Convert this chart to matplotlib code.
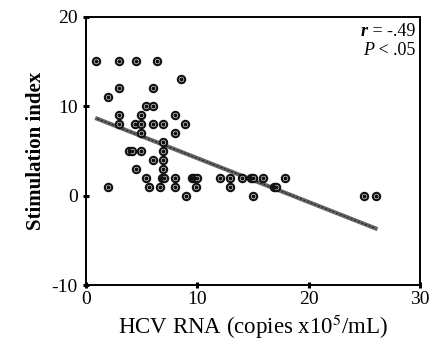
import numpy as np
import matplotlib
matplotlib.use("Agg")
import matplotlib.pyplot as plt

plt.rcParams["font.family"] = ["Liberation Serif", "DejaVu Serif"]
plt.rcParams["mathtext.fontset"] = "stix"

# HCV RNA (x10^5 copies/mL) and stimulation index
hcv_rna = [0.9, 3.0, 4.5, 6.4,
           8.5,
           3.0, 6.0,
           2.0,
           5.4, 6.0,
           3.0, 4.9, 8.0,
           3.0, 4.4, 4.9, 6.0, 6.9, 8.9,
           4.9, 8.0,
           6.9,
           3.9, 4.1, 4.9, 6.9,
           6.0, 6.9,
           4.5, 6.9,
           5.4, 6.8, 7.0, 8.0, 9.5, 9.7, 10.0, 12.0, 12.9, 14.0, 14.8, 15.0, 15.9, 17.9,
           2.0, 5.7, 6.6, 8.0, 9.9, 12.9, 16.9, 17.1,
           9.0, 15.0, 25.0, 26.0]
stim_index = [15, 15, 15, 15,
              13,
              12, 12,
              11,
              10, 10,
              9, 9, 9,
              8, 8, 8, 8, 8, 8,
              7, 7,
              6,
              5, 5, 5, 5,
              4, 4,
              3, 3,
              2, 2, 2, 2, 2, 2, 2, 2, 2, 2, 2, 2, 2, 2,
              1, 1, 1, 1, 1, 1, 1, 1,
              0, 0, 0, 0]

# regression line as drawn in the figure
fit_x = [1.0, 26.0]
fit_intercept = 9.1
fit_slope = -0.49

fig, ax = plt.subplots(figsize=(4.3, 3.48), dpi=100)
fig.subplots_adjust(left=0.2, right=0.977, top=0.952, bottom=0.18)

fx = np.array(fit_x)
ax.plot(fx, fit_intercept + fit_slope * fx, color="#666666", lw=3.0, zorder=2)
ax.plot(fx, fit_intercept + fit_slope * fx, color="#222222", lw=0.8, ls=(0, (2, 1.5)), zorder=2)

ax.scatter(hcv_rna, stim_index, s=28, facecolors="white", edgecolors="#111111",
           linewidths=1.5, zorder=3)
ax.scatter(hcv_rna, stim_index, s=4, color="#111111", zorder=4)

ax.set_xlim(0, 30)
ax.set_ylim(-10, 20)
ax.set_xticks([0, 10, 20, 30])
ax.set_yticks([-10, 0, 10, 20])
ax.set_yticklabels(["-10", "0", "10", "20"])
ax.tick_params(direction="inout", length=4, width=2.2, labelsize=14)
ax.tick_params(axis="y", pad=4)
ax.tick_params(axis="x", pad=2)
for s in ax.spines.values():
    s.set_linewidth(1.4)

ax.set_xlabel(r"HCV RNA (copies x10$^{5}$/mL)", fontsize=16.5, labelpad=3)
ax.set_ylabel("Stimulation index", fontsize=15, fontweight="bold", labelpad=4)

t1 = ax.text(0.985, 0.975, " = -.49", transform=ax.transAxes,
             ha="right", va="top", fontsize=13)
ax.annotate("r", xy=(0, 0), xycoords=t1, ha="right", va="bottom",
            fontsize=13, fontweight="bold", fontstyle="italic")
t2 = ax.text(0.985, 0.905, " < .05", transform=ax.transAxes,
             ha="right", va="top", fontsize=13)
ax.annotate("P", xy=(0, 0), xycoords=t2, ha="right", va="bottom",
            fontsize=13, fontstyle="italic")

fig.savefig("out.png", dpi=100)
